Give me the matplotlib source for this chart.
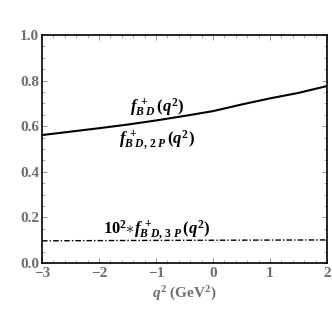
import matplotlib
matplotlib.use("Agg")
import matplotlib.pyplot as plt
from matplotlib.ticker import MultipleLocator

q2 = [-3.0, -2.5, -2.0, -1.5, -1.0, -0.5, 0.0, 0.5, 1.0, 1.5, 2.0]
f_bd = [0.561, 0.576, 0.591, 0.607, 0.625, 0.645, 0.666, 0.695, 0.722, 0.746, 0.776]
f_3p = [0.097, 0.0975, 0.098, 0.0985, 0.099, 0.0993, 0.0996, 0.1, 0.1003, 0.1006, 0.101]
xticks = [-3, -2, -1, 0, 1, 2]
yticks = [0.0, 0.2, 0.4, 0.6, 0.8, 1.0]

plt.rcParams['mathtext.fontset'] = 'custom'
plt.rcParams['mathtext.it'] = 'Liberation Serif:italic:bold'
plt.rcParams['mathtext.rm'] = 'Liberation Serif:bold'
plt.rcParams['mathtext.bf'] = 'Liberation Serif:bold'
plt.rcParams['font.family'] = ['Liberation Serif']

fig = plt.figure(figsize=(3.32, 3.32), dpi=100)
ax = fig.add_axes([0.1265, 0.208, 0.8585, 0.6866])
ax.plot(q2, f_bd, color='black', lw=1.5)
ax.plot(q2, f_3p, color='black', lw=1.0, linestyle=(0, (4, 1.5, 1, 1.5)))

ax.set_xlim(-3, 2)
ax.set_ylim(0, 1.0)
ax.set_xticks(xticks)
ax.set_yticks(yticks)
ax.set_xticklabels(['\u22123', '\u22122', '\u22121', '0', '1', '2'])
ax.set_yticklabels([f"{v:.1f}" for v in yticks])
ax.xaxis.set_minor_locator(MultipleLocator(0.2))
ax.yaxis.set_minor_locator(MultipleLocator(0.05))
ax.tick_params(which='both', direction='in', top=True, right=True,
               labelsize=11, labelcolor='#6e6e6e')
ax.tick_params(axis='x', pad=3)
ax.tick_params(axis='y', pad=2)
ax.tick_params(which='major', length=3.5, width=0.6, colors='#888888', labelcolor='#6e6e6e')
ax.tick_params(which='minor', length=2, width=0.5, colors='#888888')
for lab in ax.get_xticklabels() + ax.get_yticklabels():
    lab.set_fontweight('bold')
for s in ax.spines.values():
    s.set_linewidth(1.2)
    s.set_color('black')

ax.set_xlabel(r'$q^2$ (GeV$^2$)', fontsize=11, color='#6e6e6e', fontweight='bold', labelpad=3)

ax.text(-0.98, 0.684, r'$f^{\,+}_{B\;D}\,(q^2)$', fontsize=12, ha='center', va='center')
ax.text(-0.98, 0.54, r'$f^{\,+}_{B\;D,\,2\;P}\,(q^2)$', fontsize=12, ha='center', va='center')
ax.text(-0.98, 0.145, r'$10^2{\ast}f^{\,+}_{B\;D,\,3\;P}\,(q^2)$', fontsize=12, ha='center', va='center')

fig.savefig('out.png', dpi=100)
